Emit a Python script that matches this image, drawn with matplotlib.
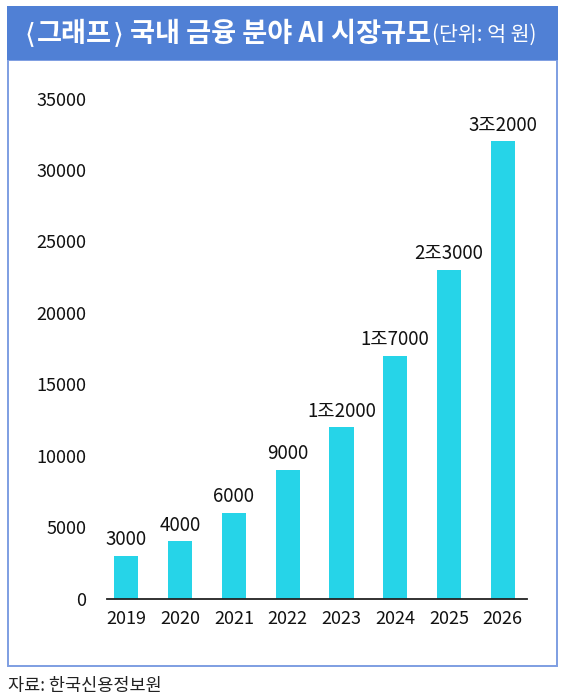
import matplotlib
matplotlib.use("Agg")
import matplotlib.pyplot as plt
from matplotlib.patches import Rectangle

plt.rcParams['font.family'] = ['Noto Sans CJK KR', 'DejaVu Sans']

years = ['2019', '2020', '2021', '2022', '2023', '2024', '2025', '2026']
values = [3000, 4000, 6000, 9000, 12000, 17000, 23000, 32000]
value_labels = ['3000', '4000', '6000', '9000', '1조2000', '1조7000', '2조3000', '3조2000']
yticks = [0, 5000, 10000, 15000, 20000, 25000, 30000, 35000]
title_main = '그래프'
title_rest = '국내 금융 분야 AI 시장규모'
title_unit = '(단위: 억 원)'
source = '자료: 한국신용정보원'

W, H = 565, 700
fig = plt.figure(figsize=(W / 100, H / 100), dpi=100)
fig.patch.set_facecolor('white')

def fx(px):
    return px / W

def fy(py):
    return 1 - py / H

# border box
fig.patches.append(Rectangle((fx(7.5), fy(665.5)), fx(557) - fx(7.5), fy(60) - fy(665.5),
                             transform=fig.transFigure, facecolor='none',
                             edgecolor='#7E9EE2', linewidth=1.4, zorder=0))
# banner
fig.patches.append(Rectangle((fx(7), fy(60)), fx(557.5) - fx(7), fy(6) - fy(60),
                             transform=fig.transFigure, facecolor='#5080D5',
                             edgecolor='none', zorder=1))

fig.canvas.draw()
r = fig.canvas.get_renderer()

def put(xpx, text, size, weight='normal', family=None, gap=0.0, ypx=34):
    kw = dict(color='white', fontsize=size, fontweight=weight,
              ha='left', va='center', zorder=3)
    if family:
        kw['family'] = family
    t = fig.text(fx(xpx), fy(ypx), text, **kw)
    bb = t.get_window_extent(renderer=r)
    return bb.x1 + gap

xp = 25
xp = put(xp, '⟨', 20, family=['DejaVu Sans'], gap=1)
xp = put(xp, title_main, 19.6, weight='bold', gap=1)
xp = put(xp, '⟩', 20, family=['DejaVu Sans'], gap=6)
xp = put(xp, title_rest, 19.6, weight='bold', gap=1)
put(xp, title_unit, 14.8, ypx=35)

fig.text(fx(8), fy(686), source, color='#222222', fontsize=12.6, ha='left', va='center')

# axes
y0, y35 = 598.5, 98.5
ax = fig.add_axes([fx(107), fy(y0), fx(527) - fx(107), fy(y35) - fy(y0)])
ax.set_facecolor('none')
x = list(range(len(years)))
ax.bar(x, values, width=0.45, color='#26D4E8', zorder=2)
for xi, v, lab in zip(x, values, value_labels):
    ax.annotate(lab, (xi, v), xytext=(0, 4), textcoords='offset points',
                ha='center', va='bottom', fontsize=13.5, color='#111111')
ax.set_xlim(-0.36, 7.45)
ax.set_ylim(0, 35000)
ax.set_yticks(yticks)
ax.set_yticklabels([str(t) for t in yticks], fontsize=13, color='#111111')
ax.set_xticks(x)
ax.set_xticklabels(years, fontsize=13, color='#111111')
for s in ['top', 'right', 'left']:
    ax.spines[s].set_visible(False)
ax.spines['bottom'].set_color('#222222')
ax.spines['bottom'].set_linewidth(1.3)
ax.tick_params(axis='both', length=0)
ax.tick_params(axis='y', pad=15)
ax.tick_params(axis='x', pad=8)

fig.savefig('out.png', dpi=100, facecolor='white')
